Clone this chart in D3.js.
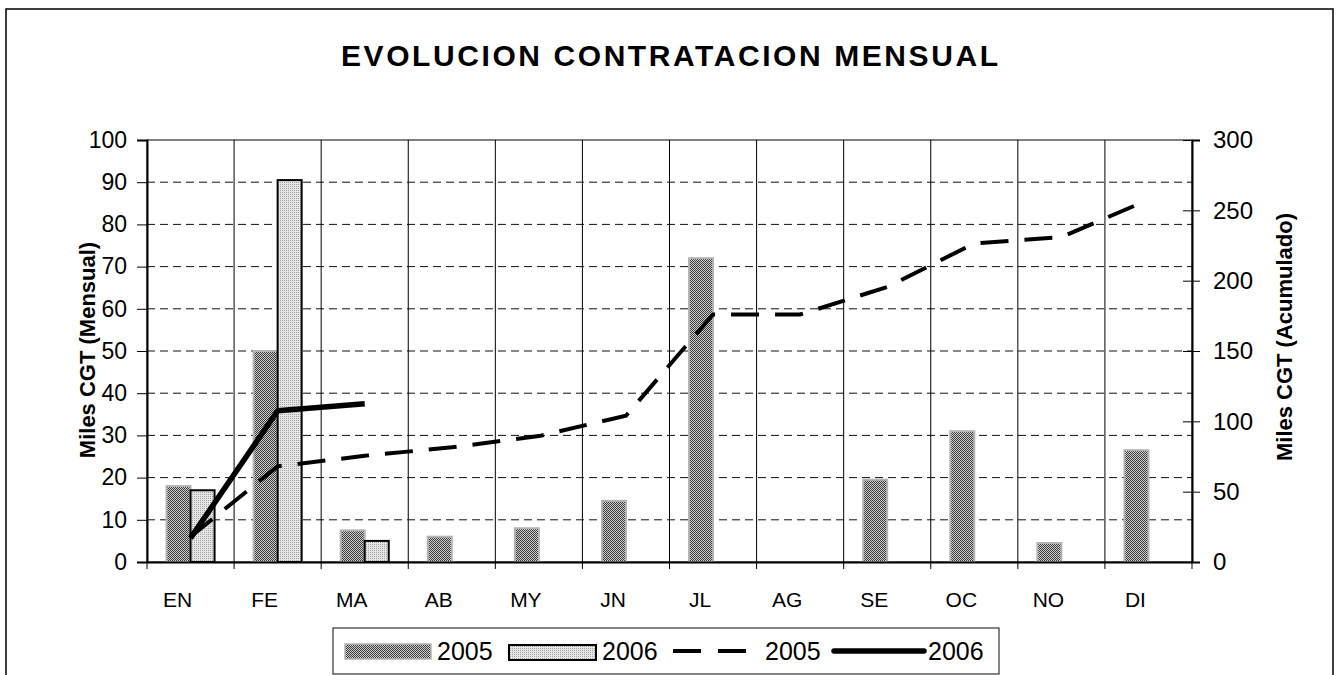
<!DOCTYPE html>
<html>
<head>
<meta charset="utf-8">
<script src="https://cdn.jsdelivr.net/npm/d3@7"></script>
<style>
  body { margin: 0; background: #fff; }
  text { font-family: "Liberation Sans", Arial, sans-serif; fill: #000; }
</style>
</head>
<body>
<div id="chart"></div>
<script>
// Datos
const months = ['EN', 'FE', 'MA', 'AB', 'MY', 'JN', 'JL', 'AG', 'SE', 'OC', 'NO', 'DI'];
const series = ['2005', '2006'];
const mensual2005 = [18, 50, 7.5, 6, 8, 14.5, 72, 0, 19.5, 31, 4.5, 26.5];
const mensual2006 = [17, 90.5, 5];
const acum2005 = [18, 68, 75.5, 81.5, 89.5, 104, 176, 176, 195.5, 226.5, 231, 257.5];
const acum2006 = [17, 107.5, 112.5];
const leftTicks = [0, 10, 20, 30, 40, 50, 60, 70, 80, 90, 100];
const rightTicks = [0, 50, 100, 150, 200, 250, 300];

const width = 1337;
const height = 675;
const plot = {left: 147, right: 1192, top: 140, bottom: 562};

const svg = d3.select("#chart")
    .append("svg")
    .attr("width", width)
    .attr("height", height);

// Patrones de relleno de las barras
const defs = svg.append("defs");
const p1 = defs.append("pattern").attr("id", "p2005")
    .attr("width", 2).attr("height", 2).attr("patternUnits", "userSpaceOnUse");
p1.append("rect").attr("width", 2).attr("height", 2).attr("fill", "#cfcfcf");
p1.append("rect").attr("width", 1).attr("height", 1).attr("fill", "#3a3a3a");
p1.append("rect").attr("x", 1).attr("y", 1).attr("width", 1).attr("height", 1).attr("fill", "#3a3a3a");
const p2 = defs.append("pattern").attr("id", "p2006")
    .attr("width", 2).attr("height", 2).attr("patternUnits", "userSpaceOnUse");
p2.append("rect").attr("width", 2).attr("height", 2).attr("fill", "#e6e6e6");
p2.append("rect").attr("width", 1).attr("height", 1).attr("fill", "#a4a4a4");

// Borde exterior
svg.append("rect")
    .attr("x", 6).attr("y", 9)
    .attr("width", 1327).attr("height", 720)
    .attr("fill", "none").attr("stroke", "#000").attr("stroke-width", 1.5);

// Escalas
const x = d3.scaleBand().domain(months).range([plot.left, plot.right]).padding(0);
const x1 = d3.scaleBand().domain(series).range([0, x.bandwidth()])
    .paddingInner(0).paddingOuter(0.8125);
const yL = d3.scaleLinear().domain([0, 100]).range([plot.bottom, plot.top]);
const yR = d3.scaleLinear().domain([0, 300]).range([plot.bottom, plot.top]);

// Rejilla horizontal (discontinua)
svg.append("g")
    .selectAll("line")
    .data(leftTicks.filter(d => d > 0 && d < 100))
    .enter()
    .append("line")
    .attr("x1", plot.left).attr("x2", plot.right)
    .attr("y1", d => yL(d)).attr("y2", d => yL(d))
    .attr("stroke", "#111").attr("stroke-width", 1)
    .attr("stroke-dasharray", "8,5");

// Rejilla vertical
svg.append("g")
    .selectAll("line")
    .data(months.slice(1))
    .enter()
    .append("line")
    .attr("x1", d => x(d)).attr("x2", d => x(d))
    .attr("y1", plot.top).attr("y2", plot.bottom)
    .attr("stroke", "#000").attr("stroke-width", 1);

// Marco del area de trazado
svg.append("rect")
    .attr("x", plot.left).attr("y", plot.top)
    .attr("width", plot.right - plot.left).attr("height", plot.bottom - plot.top)
    .attr("fill", "none").attr("stroke", "#000").attr("stroke-width", 1);

// Barras
svg.append("g")
    .selectAll("rect")
    .data(mensual2005.map((v, i) => ({m: months[i], v})))
    .enter()
    .append("rect")
    .attr("x", d => x(d.m) + x1('2005'))
    .attr("width", x1.bandwidth())
    .attr("y", d => yL(d.v))
    .attr("height", d => yL(0) - yL(d.v))
    .attr("fill", "url(#p2005)")
    .attr("stroke", d => d.v > 0 ? "#b4b4b4" : "none")
    .attr("stroke-width", 2);

svg.append("g")
    .selectAll("rect")
    .data(mensual2006.map((v, i) => ({m: months[i], v})))
    .enter()
    .append("rect")
    .attr("x", d => x(d.m) + x1('2006'))
    .attr("width", x1.bandwidth())
    .attr("y", d => yL(d.v))
    .attr("height", d => yL(0) - yL(d.v))
    .attr("fill", "url(#p2006)")
    .attr("stroke", "#000")
    .attr("stroke-width", 2);

// Lineas de acumulado
const line = d3.line()
    .x(d => x(d.m) + x.bandwidth() / 2)
    .y(d => yR(d.v));

svg.append("path")
    .datum(acum2005.map((v, i) => ({m: months[i], v})))
    .attr("d", line)
    .attr("fill", "none")
    .attr("stroke", "#000")
    .attr("stroke-width", 4)
    .attr("stroke-dasharray", "28,16");

svg.append("path")
    .datum(acum2006.map((v, i) => ({m: months[i], v})))
    .attr("d", line)
    .attr("fill", "none")
    .attr("stroke", "#000")
    .attr("stroke-width", 5.5)
    .attr("stroke-linejoin", "round");

// Ejes
const axL = svg.append("g")
    .attr("transform", `translate(${plot.left}, 0)`)
    .call(d3.axisLeft(yL).tickValues(leftTicks).tickSize(10).tickPadding(10));
axL.select(".domain").attr("stroke-width", 2);
axL.selectAll("text").style("font-size", "23px").style("font-family", "Liberation Sans, Arial");

const axR = svg.append("g")
    .attr("transform", `translate(${plot.right}, 0)`)
    .call(d3.axisRight(yR).tickValues(rightTicks).tickSize(8).tickPadding(13));
axR.select(".domain").attr("stroke-width", 2);
axR.selectAll(".tick line").attr("x1", -9);
axR.selectAll("text").style("font-size", "24px").style("font-family", "Liberation Sans, Arial");

const axB = svg.append("g")
    .attr("transform", `translate(0, ${plot.bottom})`)
    .call(d3.axisBottom(x).tickSize(0).tickPadding(30));
axB.select(".domain").attr("stroke-width", 2);
axB.selectAll("text")
    .attr("dx", -13)
    .style("font-size", "21px").style("font-family", "Liberation Sans, Arial");

// Marcas del eje X en los limites de categoria
svg.append("g")
    .selectAll("line")
    .data(months.concat(['end']))
    .enter()
    .append("line")
    .attr("x1", d => d === 'end' ? plot.right : x(d))
    .attr("x2", d => d === 'end' ? plot.right : x(d))
    .attr("y1", plot.bottom).attr("y2", plot.bottom + 7)
    .attr("stroke", "#000").attr("stroke-width", 1);

// Titulo
svg.append("text")
    .attr("x", 669.5)
    .attr("y", 66)
    .attr("text-anchor", "middle")
    .attr("textLength", 657)
    .attr("lengthAdjust", "spacing")
    .style("font-size", "30px")
    .style("font-weight", "bold")
    .text("EVOLUCION CONTRATACION MENSUAL");

// Titulos de ejes
svg.append("text")
    .attr("transform", "translate(95, 350) rotate(-90)")
    .attr("text-anchor", "middle")
    .style("font-size", "22px")
    .style("font-weight", "bold")
    .text("Miles CGT (Mensual)");

svg.append("text")
    .attr("transform", "translate(1292, 337) rotate(-90)")
    .attr("text-anchor", "middle")
    .style("font-size", "22px")
    .style("font-weight", "bold")
    .text("Miles CGT (Acumulado)");

// Leyenda
const legend = svg.append("g");
legend.append("rect")
    .attr("x", 333).attr("y", 628)
    .attr("width", 666).attr("height", 46)
    .attr("fill", "#fff").attr("stroke", "#333").attr("stroke-width", 1.2);

const legendItems = [
    {label: series[0], kind: 'bar05', x: 345, tx: 437},
    {label: series[1], kind: 'bar06', x: 509, tx: 602},
    {label: series[0], kind: 'dash', x: 673, tx: 765},
    {label: series[1], kind: 'solid', x: 834, tx: 928}
];

legendItems.forEach(d => {
    if (d.kind === 'bar05') {
        legend.append("rect").attr("x", d.x).attr("y", 644).attr("width", 86).attr("height", 15)
            .attr("fill", "url(#p2005)").attr("stroke", "#b4b4b4").attr("stroke-width", 1.5);
    } else if (d.kind === 'bar06') {
        legend.append("rect").attr("x", d.x).attr("y", 645).attr("width", 87).attr("height", 15)
            .attr("fill", "url(#p2006)").attr("stroke", "#000").attr("stroke-width", 2);
    } else {
        legend.append("line").attr("x1", d.x).attr("x2", d.kind === 'solid' ? d.x + 90 : d.x + 74)
            .attr("y1", 651).attr("y2", 651)
            .attr("stroke", "#000")
            .attr("stroke-width", d.kind === 'dash' ? 4 : 5.5)
            .attr("stroke-linecap", d.kind === 'solid' ? "round" : "butt")
            .attr("stroke-dasharray", d.kind === 'dash' ? "28,17" : null);
    }
    legend.append("text")
        .attr("x", d.tx).attr("y", 660)
        .style("font-size", "25px")
        .text(d.label);
});
</script>
</body>
</html>
